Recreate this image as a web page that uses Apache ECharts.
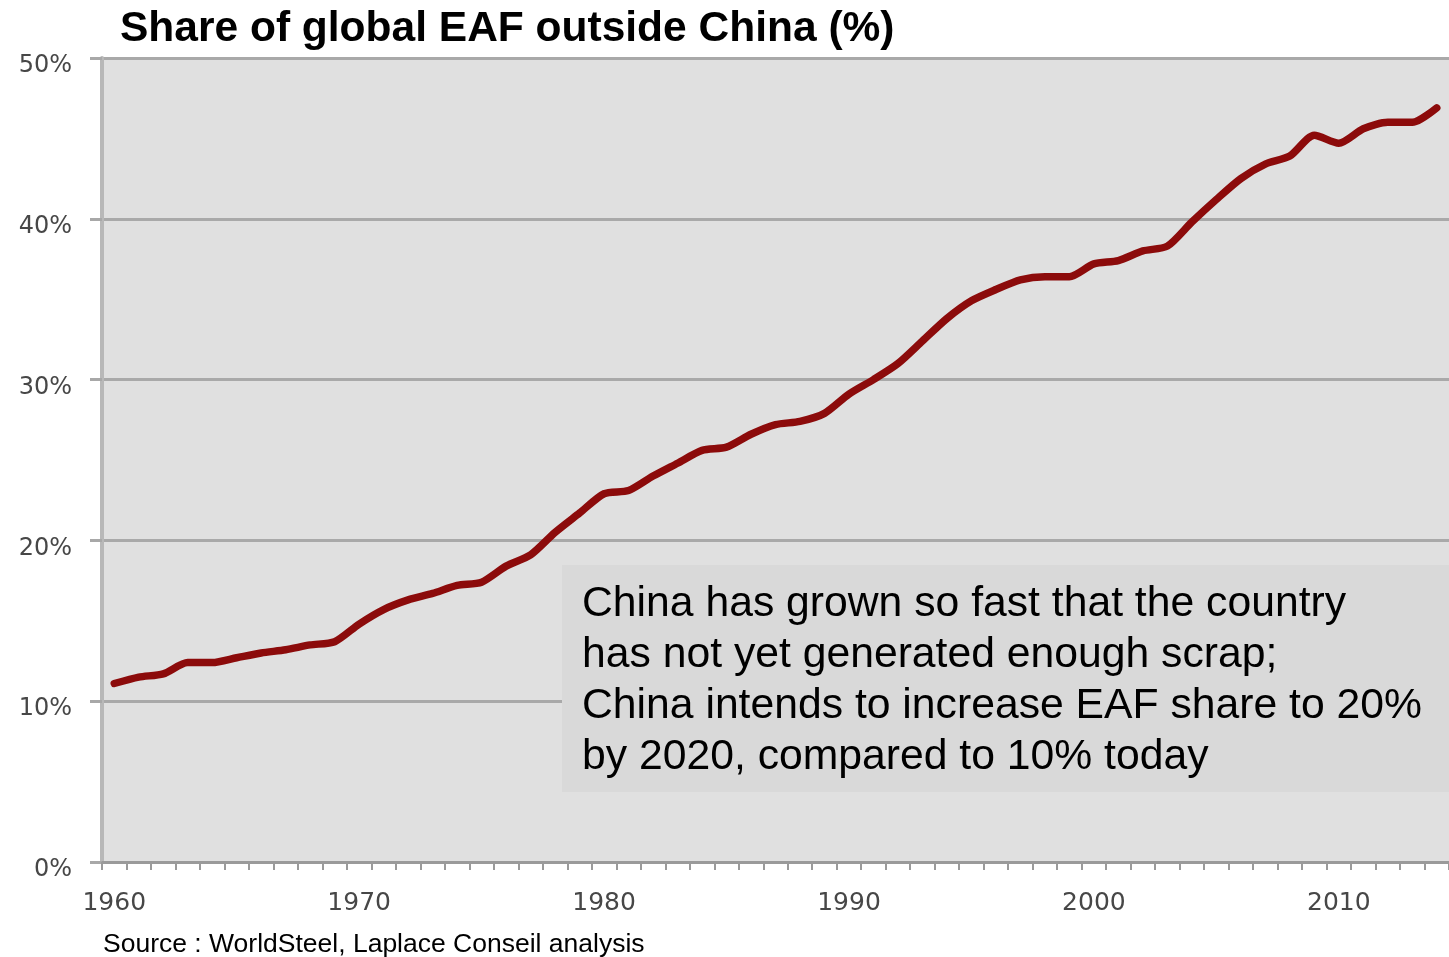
<!DOCTYPE html>
<html>
<head>
<meta charset="utf-8">
<title>Share of global EAF outside China (%)</title>
<script src="https://cdn.jsdelivr.net/npm/echarts@6/dist/echarts.min.js"></script>
<style>
  html, body { margin: 0; padding: 0; background: #ffffff; overflow: hidden; }
  #chart { width: 1449px; height: 957px; }
</style>
</head>
<body>
<div id="chart"></div>
<script>
// Years on the category axis
const years = [
  '1960','1961','1962','1963','1964','1965','1966','1967','1968','1969',
  '1970','1971','1972','1973','1974','1975','1976','1977','1978','1979',
  '1980','1981','1982','1983','1984','1985','1986','1987','1988','1989',
  '1990','1991','1992','1993','1994','1995','1996','1997','1998','1999',
  '2000','2001','2002','2003','2004','2005','2006','2007','2008','2009',
  '2010','2011','2012','2013','2014'
];

// EAF share of crude steel output outside China, in percent
const eafShare = [
  11.1, 11.5, 11.7, 12.4, 12.4, 12.7, 13.0, 13.2, 13.5, 13.7,
  14.8, 15.7, 16.3, 16.7, 17.2, 17.4, 18.4, 19.1, 20.5, 21.7,
  22.9, 23.1, 24.0, 24.8, 25.6, 25.8, 26.6, 27.2, 27.4, 27.9,
  29.1, 30.0, 31.0, 32.4, 33.8, 34.9, 35.6, 36.2, 36.4, 36.4,
  37.2, 37.4, 38.0, 38.3, 39.8, 41.2, 42.5, 43.4, 43.9, 45.2,
  44.7, 45.6, 46.0, 46.0, 46.9
];

// Value axis ticks
const yTicks = { min: 0, max: 50, step: 10 };

const titleText = 'Share of global EAF outside China (%)';
const sourceText = 'Source : WorldSteel, Laplace Conseil analysis';
const noteLines = [
  'China has grown so fast that the country',
  'has not yet generated enough scrap;',
  'China intends to increase EAF share to 20%',
  'by 2020, compared to 10% today'
];

const chart = echarts.init(document.getElementById('chart'), null, { renderer: 'canvas' });

const option = {
  backgroundColor: '#ffffff',
  animation: false,
  grid: {
    left: 102,
    right: -9,
    top: 58,
    bottom: 95,
    show: true,
    backgroundColor: '#e0e0e0',
    borderWidth: 0
  },
  xAxis: {
    type: 'category',
    data: years,
    boundaryGap: true,
    axisLine: { show: true, lineStyle: { color: '#9a9a9a', width: 3 } },
    axisTick: { show: true, interval: 0, length: 8, lineStyle: { color: '#9a9a9a', width: 2 } },
    axisLabel: {
      interval: 9,
      margin: 29,
      fontFamily: 'DejaVu Sans',
      fontSize: 25,
      color: '#474747'
    },
    splitLine: { show: false }
  },
  yAxis: {
    type: 'value',
    min: yTicks.min,
    max: yTicks.max,
    interval: yTicks.step,
    axisLine: { show: true, lineStyle: { color: '#b8b8b8', width: 4 } },
    axisTick: { show: true, length: 12, lineStyle: { color: '#a8a8a8', width: 3 } },
    axisLabel: {
      formatter: '{value}%',
      margin: 30,
      fontFamily: 'DejaVu Sans',
      fontSize: 24,
      color: '#474747',
      verticalAlign: 'top',
      lineHeight: 16
    },
    splitLine: { show: true, lineStyle: { color: '#a9a9a9', width: 3 } }
  },
  series: [{
    type: 'line',
    data: eafShare,
    smooth: 0.25,
    showSymbol: false,
    symbol: 'none',
    z: 3,
    lineStyle: { color: '#8c0b0b', width: 7.5, cap: 'round', join: 'round' }
  }],
  graphic: [
    {
      type: 'text',
      x: 120,
      y: 29,
      z: 10,
      style: {
        text: titleText,
        font: 'bold 42.5px "Liberation Sans", Arial, sans-serif',
        fill: '#000000',
        textVerticalAlign: 'middle'
      }
    },
    {
      type: 'rect',
      z: 5,
      shape: { x: 562, y: 565, width: 900, height: 227 },
      style: { fill: '#d9d9d9' }
    },
    {
      type: 'text',
      x: 582,
      y: 579,
      z: 6,
      style: {
        text: noteLines.join('\n'),
        font: '42.7px "Liberation Sans", Arial, sans-serif',
        lineHeight: 51,
        fill: '#000000',
        textVerticalAlign: 'top'
      }
    },
    {
      type: 'text',
      x: 103,
      y: 945,
      z: 10,
      style: {
        text: sourceText,
        font: '26.5px "Liberation Sans", Arial, sans-serif',
        fill: '#000000',
        textVerticalAlign: 'middle'
      }
    }
  ]
};

chart.setOption(option);
</script>
</body>
</html>
